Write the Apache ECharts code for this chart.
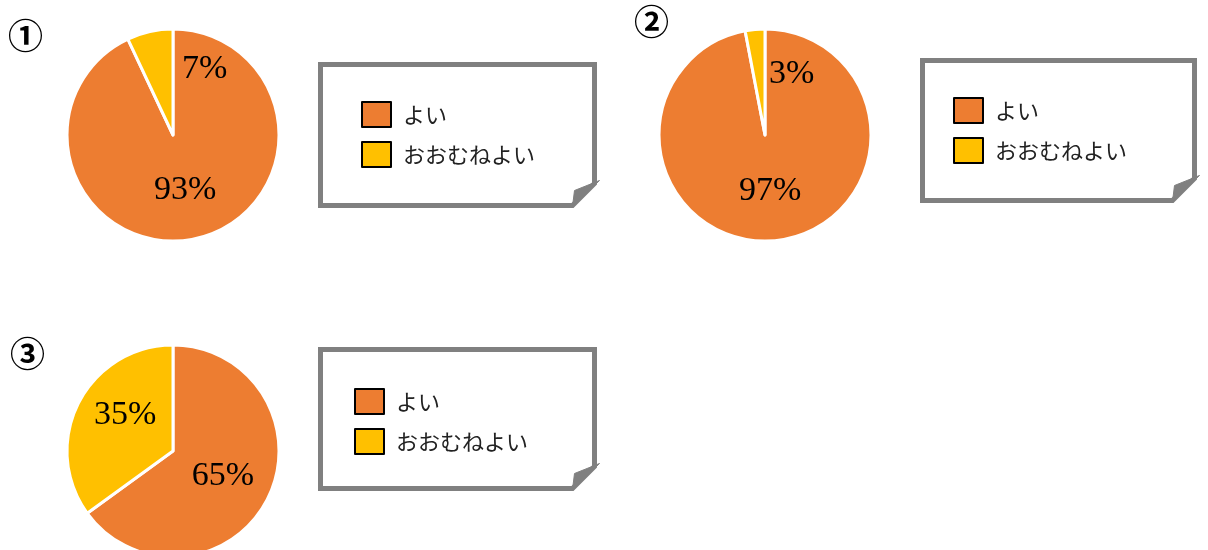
<!DOCTYPE html>
<html><head><meta charset="utf-8">
<script src="https://cdn.jsdelivr.net/npm/echarts@6/dist/echarts.min.js"></script>
<style>html,body{margin:0;padding:0;background:#fff}#c{width:1208px;height:550px}</style>
</head><body><div id="c"></div>
<script>
const categories = ['よい', 'おおむねよい'];
const chart1Values = [93, 7];
const chart2Values = [97, 3];
const chart3Values = [65, 35];
const chartTitles = ['①', '②', '③'];
const colors = ['#ED7D31', '#FFC000'];

const pieCenters = [[173,135],[765,135],[173,451]];
const smallOffsets = [[44,-11],[32,-5],[2,-10]];
const allValues = [chart1Values, chart2Values, chart3Values];

const series = allValues.map((vals, i) => ({
  type: 'pie',
  center: pieCenters[i],
  radius: 106,
  startAngle: 90,
  clockwise: true,
  animation: false,
  silent: true,
  itemStyle: { borderColor: '#fff', borderWidth: 3 },
  label: {
    position: 'inside',
    formatter: '{c}%',
    color: '#000',
    fontFamily: 'Liberation Serif',
    fontSize: 34
  },
  labelLine: { show: false },
  data: vals.map((v, j) => ({
    name: categories[j], value: v,
    itemStyle: { color: colors[j] },
    label: j === 1 ? { offset: smallOffsets[i] } : {}
  }))
}));

const boxes = [[318,62,597,208],[920,58,1197,203],[318,347,597,491]];
const graphics = [];
boxes.forEach(b => {
  const [x0,y0,x1,y1] = b;
  const l = x0+2.5, t = y0+2.5, r = x1-2.5, bo = y1-2.5;
  graphics.push({ type:'polygon', z:0, shape:{ points:[[l,t],[r,t],[r,bo-22],[r-22,bo],[l,bo]] },
    style:{ fill:'#fff', stroke:'#808080', lineWidth:5 } });
  graphics.push({ type:'polygon', z:1, shape:{ points:[[r-22,bo+1],[r-20,bo-15],[r+5,bo-25]] },
    style:{ fill:'#808080', stroke:'#808080', lineWidth:1 } });
});
const titlePos = [[8,18],[634,4],[10,336]];
chartTitles.forEach((t, i) => {
  graphics.push({ type:'text', z:5, x:titlePos[i][0], y:titlePos[i][1],
    style:{ text:t, font:'bold 35px "Noto Sans CJK JP"', fill:'#000' } });
});

const legendPos = [[356,96],[948,92],[349,383]];
const legends = legendPos.map(p => ({
  left: p[0], top: p[1], orient: 'vertical', z: 10,
  itemWidth: 29, itemHeight: 25, itemGap: 13,
  icon: 'rect',
  itemStyle: { borderColor: '#000', borderWidth: 2 },
  textStyle: { fontSize: 22, color: '#222', fontFamily: 'Noto Sans CJK JP', padding:[-10,0,0,7] },
  selectedMode: false,
  data: categories
}));

const chart = echarts.init(document.getElementById('c'));
chart.setOption({
  animation: false,
  color: colors,
  legend: legends,
  graphic: graphics,
  series: series
});
</script></body></html>
